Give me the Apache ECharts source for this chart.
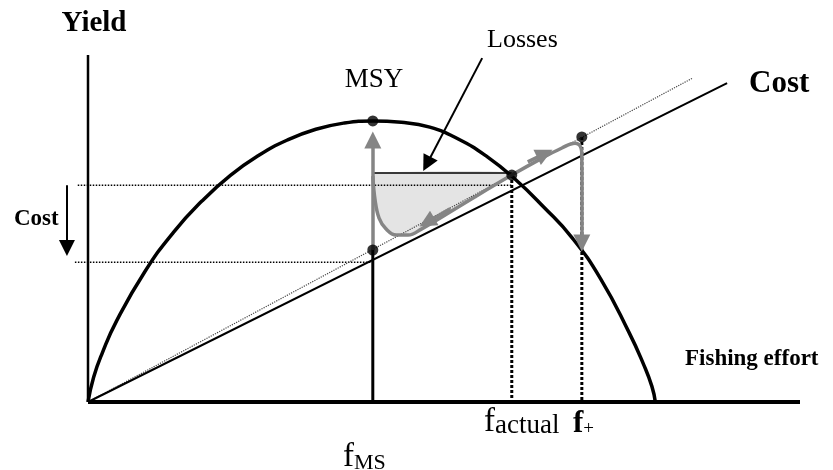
<!DOCTYPE html>
<html>
<head>
<meta charset="utf-8">
<script src="https://cdn.jsdelivr.net/npm/echarts@6/dist/echarts.min.js"></script>
<style>
  html, body { margin: 0; padding: 0; background: #fff; }
  #main { width: 833px; height: 470px; }
</style>
</head>
<body>
<div id="main"></div>
<script>
// yield curve (effort, yield)
let yieldEffort = [0, 1, 2.5, 5, 10, 15, 20, 25, 30, 35, 40, 45, 50, 55, 60, 65, 70, 75, 80, 85, 90, 95, 97.5, 99, 99.6]
let yieldValue  = [0, 7.2, 14.1, 23.3, 37.6, 48.9, 57.9, 65.3, 71.1, 75.5, 78.6, 80.4, 81.0, 80.6, 79.2, 75.8, 70.8, 64.2, 56.2, 47.3, 35.5, 20.0, 11.0, 4.5, 0]

// cost lines
let costSolid  = [[0, 0], [112.2, 91.9]]
let costDotted = [[0, 0], [106.2, 93.4]]

// key points: MSY, cost at fMSY, f actual, f+
let keyPoints = [[50, 81], [50, 43.8], [74.4, 65.4], [86.7, 76.4]]

// adjustment path (grey)
let pathEffort = [50.0, 50.4, 51.1, 52.3, 54.1, 56.2, 58.6, 62.7, 67.9, 74.4, 79.4, 83.2, 85.5, 86.4, 86.7, 86.7]
let pathValue  = [65.1, 58.2, 53.0, 49.9, 48.1, 48.1, 49.9, 53.9, 59.1, 65.4, 70.0, 73.2, 74.6, 73.8, 71.2, 67.4]

// shaded losses area
let lossEffort = [50, 74.4, 67.9, 62.7, 58.6, 56.2, 54.1, 52.3, 51.1, 50.4, 50]
let lossValue  = [66.0, 66.0, 59.4, 54.2, 50.1, 48.4, 48.4, 50.1, 53.3, 58.5, 63.7]

// guide lines
let hDotUpper = [[-1.8, 62.5], [74.4, 62.5]]
let hDotLower = [[-2.3, 40.3], [50, 40.3]]
let vDotActual = [[74.4, 65.4], [74.4, 0]]
let vDotPlus = [[86.7, 76.4], [86.7, 0]]
let vMsy = [[50, 0], [50, 43.8]]
let lossTop = [[50, 66.0], [74.4, 66.0]]
let xAxisLine = [[0, 0], [125, 0]]
let yAxisLine = [[0, 0], [0, 100]]

// arrows
let greyArrows = [
	[[50, 43.8], [50, 75.5]],
	[[86.7, 67.4], [86.7, 45.8]],
	[[63.6, 55.7], [59.5, 51.8]],
	[[77.2, 69.2], [80.2, 71.6]]
]
let blackArrows = [
	[[69.2, 99.1], [59.5, 68.6]],
	[[-3.7, 62.5], [-3.7, 44.4]]
]

let serif = '"Liberation Serif", "Times New Roman", serif'

let myChart = echarts.init(document.getElementById('main'))

function seg(data, color, width, type, z) {
	return {
		type: 'line',
		data: data,
		symbol: 'none',
		clip: false,
		silent: true,
		z: z || 2,
		lineStyle: { color: color, width: width, type: type || 'solid' }
	}
}

function arrowSeries(list, color, width, size) {
	return {
		type: 'lines',
		coordinateSystem: 'cartesian2d',
		symbol: ['none', 'triangle'],
		symbolSize: size,
		silent: true,
		z: 6,
		lineStyle: { color: color, width: width, opacity: 1, curveness: 0 },
		data: list.map(function (c) { return { coords: c } })
	}
}

let chartOption = {
	animation: false,
	grid: { left: 2.56, right: 33, top: 55, bottom: 68 },
	xAxis: { type: 'value', min: -15, max: 125, show: false },
	yAxis: { type: 'value', min: 0, max: 100, show: false },
	series: [
		{
			type: 'custom',
			clip: false,
			silent: true,
			z: 1,
			data: [[0, 0]],
			renderItem: function (params, api) {
				let pts = lossEffort.map(function (x, i) { return api.coord([x, lossValue[i]]) })
				return { type: 'polygon', shape: { points: pts, smooth: 0.2 }, style: { fill: '#e4e4e4' } }
			}
		},
		seg(xAxisLine, '#000', 4),
		seg(yAxisLine, '#000', 2.5),
		seg(hDotUpper, '#000', 1.5, 'dotted'),
		seg(hDotLower, '#000', 1.5, 'dotted'),
		seg(vDotActual, '#000', 3, [3, 2]),
		seg(vDotPlus, '#000', 3, [3, 2]),
		seg(vMsy, '#000', 3),
		seg(lossTop, '#000', 1.5),
		seg(costDotted, '#444', 1.2, 'dotted'),
		seg(costSolid, '#000', 2),
		{
			type: 'line',
			data: yieldEffort.map(function (x, i) { return [x, yieldValue[i]] }),
			smooth: true,
			symbol: 'none',
			clip: false,
			z: 3,
			lineStyle: { color: '#000', width: 3.5 }
		},
		{
			type: 'line',
			data: pathEffort.map(function (x, i) { return [x, pathValue[i]] }),
			smooth: 0.4,
			symbol: 'none',
			clip: false,
			z: 4,
			lineStyle: { color: '#858585', width: 3.5 }
		},
		arrowSeries(greyArrows, '#858585', 3.5, 17),
		arrowSeries(blackArrows, '#000', 2, 16),
		{
			type: 'scatter',
			data: keyPoints,
			symbol: 'circle',
			symbolSize: 11,
			z: 8,
			itemStyle: { color: '#000' }
		}
	],
	graphic: [
		{ type: 'text', x: 94, y: 38, style: { text: 'Yield', fontSize: 29, fontWeight: 'bold', fontFamily: serif, fill: '#000', align: 'center', verticalAlign: 'bottom' } },
		{ type: 'text', x: 374, y: 93, style: { text: 'MSY', fontSize: 27, fontFamily: serif, fill: '#000', align: 'center', verticalAlign: 'bottom' } },
		{ type: 'text', x: 487, y: 53, style: { text: 'Losses', fontSize: 26, fontFamily: serif, fill: '#000', verticalAlign: 'bottom' } },
		{ type: 'text', x: 749, y: 99, style: { text: 'Cost', fontSize: 31, fontWeight: 'bold', fontFamily: serif, fill: '#000', verticalAlign: 'bottom' } },
		{ type: 'text', x: 14, y: 231, style: { text: 'Cost', fontSize: 23, fontWeight: 'bold', fontFamily: serif, fill: '#000', verticalAlign: 'bottom' } },
		{ type: 'text', x: 685, y: 371, style: { text: 'Fishing effort', fontSize: 23, fontWeight: 'bold', fontFamily: serif, fill: '#000', verticalAlign: 'bottom' } },
		{ type: 'text', x: 484, y: 439, style: {
			text: '{f|f}{s|actual}', verticalAlign: 'bottom', fill: '#000',
			rich: {
				f: { fontSize: 33, fontFamily: serif, verticalAlign: 'bottom', lineHeight: 33 },
				s: { fontSize: 27, fontFamily: serif, verticalAlign: 'bottom', lineHeight: 27 }
			}
		} },
		{ type: 'text', x: 573, y: 439, style: {
			text: '{f|f}{s|+}', verticalAlign: 'bottom', fill: '#000',
			rich: {
				f: { fontSize: 31, fontWeight: 'bold', fontFamily: serif, verticalAlign: 'bottom', lineHeight: 31 },
				s: { fontSize: 19, fontFamily: serif, verticalAlign: 'bottom', lineHeight: 19 }
			}
		} },
		{ type: 'text', x: 343, y: 474, style: {
			text: '{f|f}{s|MS}', verticalAlign: 'bottom', fill: '#000',
			rich: {
				f: { fontSize: 33, fontFamily: serif, verticalAlign: 'bottom', lineHeight: 33 },
				s: { fontSize: 22, fontFamily: serif, verticalAlign: 'bottom', lineHeight: 22 }
			}
		} }
	]
}

chartOption && myChart.setOption(chartOption)
</script>
</body>
</html>
